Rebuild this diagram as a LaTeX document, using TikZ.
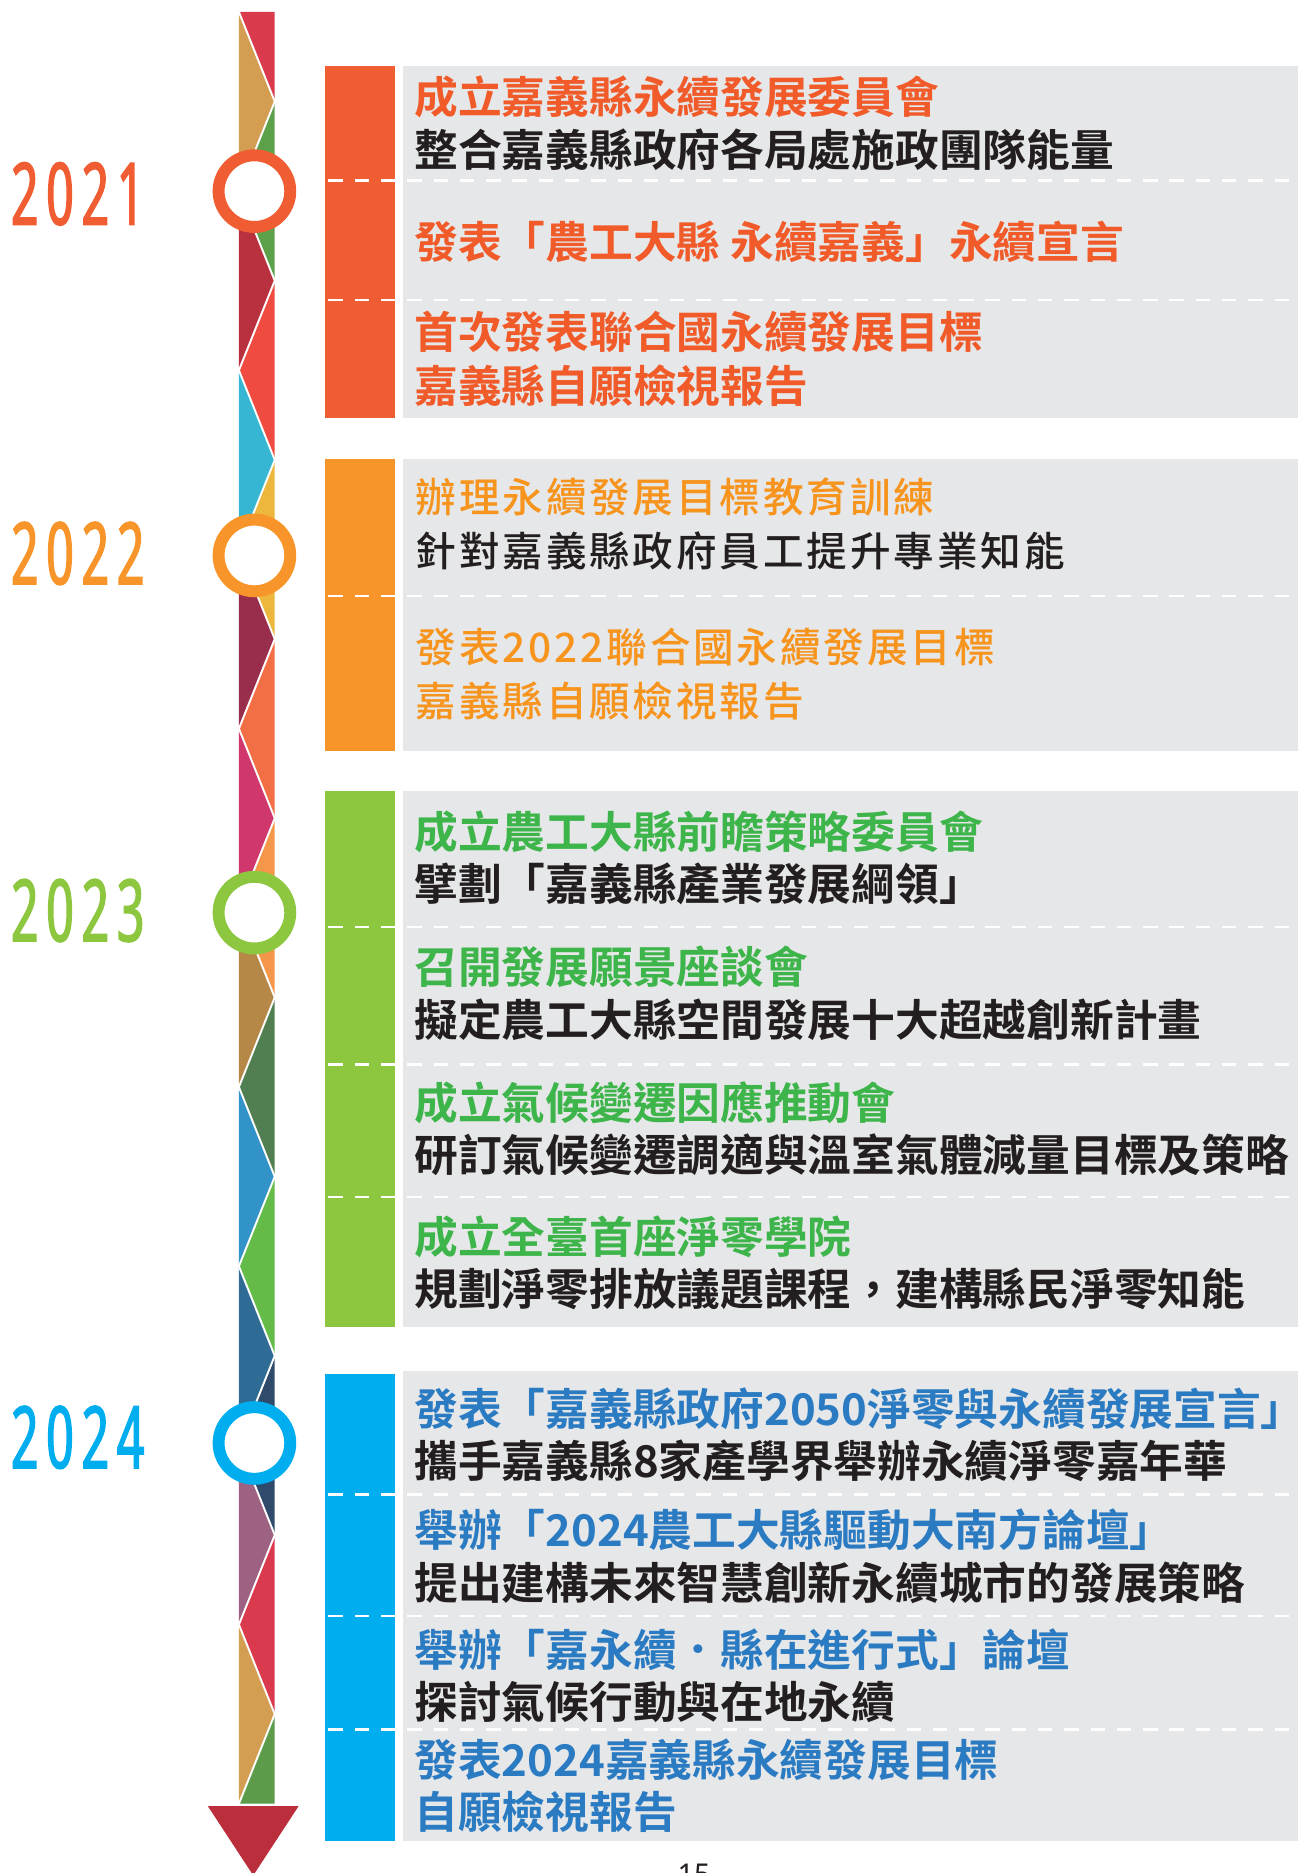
\documentclass[tikz,border=0pt]{standalone}
\usepackage{fontspec}
\newfontfamily\cjkb{Noto Sans CJK TC}[UprightFont={* Bold}]
\newfontfamily\cjkm{Noto Sans CJK TC}[UprightFont={* Medium},LetterSpace=7]
\newfontfamily\yearfont{Noto Sans}[FakeStretch=0.56,FakeBold=1.6,LetterSpace=9]
\newfontfamily\pagefont{Noto Sans}
\definecolor{cA}{HTML}{F15D33}
\definecolor{cB}{HTML}{F7952A}
\definecolor{cC}{HTML}{8DC63F}
\definecolor{cD}{HTML}{00AEEF}
\definecolor{tA}{HTML}{F15A29}
\definecolor{tB}{HTML}{F7941D}
\definecolor{tC}{HTML}{3DB54A}
\definecolor{tD}{HTML}{2B7BC2}
\definecolor{ink}{HTML}{231F20}
\definecolor{panel}{HTML}{E6E7E8}
\definecolor{arrowred}{HTML}{BA2F3B}
\definecolor{L0}{HTML}{D39E52}
\definecolor{L1}{HTML}{B9313E}
\definecolor{L2}{HTML}{37B6D3}
\definecolor{L3}{HTML}{992D4C}
\definecolor{L4}{HTML}{D0376C}
\definecolor{L5}{HTML}{B58847}
\definecolor{L6}{HTML}{3193C8}
\definecolor{L7}{HTML}{2E6C96}
\definecolor{L8}{HTML}{9D6282}
\definecolor{L9}{HTML}{D39E52}
\definecolor{R0}{HTML}{D93A4C}
\definecolor{R1}{HTML}{5DA04A}
\definecolor{R2}{HTML}{EF4B40}
\definecolor{R3}{HTML}{EDB63D}
\definecolor{R4}{HTML}{F26F45}
\definecolor{R5}{HTML}{F5974A}
\definecolor{R6}{HTML}{517F51}
\definecolor{R7}{HTML}{64BB48}
\definecolor{R8}{HTML}{2F4A6B}
\definecolor{R9}{HTML}{D93A4E}
\definecolor{R10}{HTML}{5B9B4A}
\tikzset{
  txt/.style={anchor=base west, inner sep=0pt, outer sep=0pt},
  hdbold/.style={txt, font=\cjkb\fontsize{36.6}{40}\selectfont},
  hdmed/.style={txt, font=\cjkm\fontsize{34}{40}\selectfont},
  yearlbl/.style={anchor=base west, inner sep=0pt, font=\yearfont\fontsize{72}{80}\selectfont},
  ring/.style={circle, draw=#1, line width=10pt, fill=white, minimum size=60pt, inner sep=0pt},
  sepline/.style={white, line width=2pt, dash pattern=on 12pt off 10pt, dash phase=19pt},
  zig/.style={white, line width=1.6pt, line join=miter}
}
\begin{document}
\begin{tikzpicture}[x=1pt,y=-1pt]
\useasboundingbox (0,0) rectangle (1087,1568);
% ---------- timeline stripe ----------
\foreach \c [count=\j from 0] in {L0,L1,L2,L3,L4,L5,L6,L7,L8,L9}{
  \fill[\c] (200,{10+150*\j}) -- (230,{85+150*\j}) -- (200,{160+150*\j}) -- cycle;
}
\fill[R0] (200,10) -- (230,10) -- (230,85) -- cycle;
\foreach \c [count=\j from 1] in {R1,R2,R3,R4,R5,R6,R7,R8,R9}{
  \fill[\c] (230,{10+75*(2*\j-1)}) -- (200,{10+150*\j}) -- (230,{10+75*(2*\j+1)}) -- cycle;
}
\fill[R10] (230,1435) -- (200,1510) -- (230,1510) -- cycle;
\foreach \j in {0,...,9}{
  \draw[zig] (200,{10+150*\j}) -- (230,{85+150*\j}) -- (200,{160+150*\j});
}
\fill[arrowred] (174,1512) -- (250,1512) -- (212,1570) -- cycle;
% ---------- year rings ----------
\node[ring=cA] (r21) at (213,160) {};
\node[ring=cB] (r22) at (213,465) {};
\node[ring=cC] (r23) at (213,764) {};
\node[ring=cD] (r24) at (213,1208) {};
% ---------- year labels ----------
\node[yearlbl, text=cA] (y21) at (9,188) {2021};
\node[yearlbl, text=cB] (y22) at (9,489) {2022};
\node[yearlbl, text=cC] (y23) at (9,788) {2023};
\node[yearlbl, text=cD] (y24) at (9,1229) {2024};
% ---------- panels ----------
\fill[panel] (337,55) rectangle (1087,350);
\fill[cA] (272,55) rectangle (331,350);
\fill[panel] (337,384) rectangle (1087,629);
\fill[cB] (272,384) rectangle (331,629);
\fill[panel] (337,662) rectangle (1087,1111);
\fill[cC] (272,662) rectangle (331,1111);
\fill[panel] (337,1148) rectangle (1087,1541);
\fill[cD] (272,1150) rectangle (331,1541);
% ---------- separators ----------
\foreach \yy in {151,251,499,776,891,1002,1251,1353,1448}{
  \draw[sepline] (272,\yy) -- (1087,\yy);
}
% ---------- 2021 ----------
\node[hdbold, text=tA] (a1) at (347,95) {成立嘉義縣永續發展委員會};
\node[hdbold, text=ink] (a2) at (347,139) {整合嘉義縣政府各局處施政團隊能量};
\node[hdbold, text=tA] (a3) at (347,216) {發表「農工大縣 永續嘉義」永續宣言};
\node[hdbold, text=tA] (a4) at (347,292) {首次發表聯合國永續發展目標};
\node[hdbold, text=tA] (a5) at (347,337) {嘉義縣自願檢視報告};
% ---------- 2022 ----------
\node[hdmed, text=tB] (b1) at (348,429) {辦理永續發展目標教育訓練};
\node[hdmed, text=ink] (b2) at (348,474) {針對嘉義縣政府員工提升專業知能};
\node[hdmed, text=tB] (b3) at (348,555) {發表2022聯合國永續發展目標};
\node[hdmed, text=tB] (b4) at (348,600) {嘉義縣自願檢視報告};
% ---------- 2023 ----------
\node[hdbold, text=tC] (c1) at (347,710) {成立農工大縣前瞻策略委員會};
\node[hdbold, text=ink] (c2) at (347,754) {擘劃「嘉義縣產業發展綱領」};
\node[hdbold, text=tC] (c3) at (347,823) {召開發展願景座談會};
\node[hdbold, text=ink] (c4) at (347,868) {擬定農工大縣空間發展十大超越創新計畫};
\node[hdbold, text=tC] (c5) at (347,937) {成立氣候變遷因應推動會};
\node[hdbold, text=ink] (c6) at (347,981) {研訂氣候變遷調適與溫室氣體減量目標及策略};
\node[hdbold, text=tC] (c7) at (347,1049) {成立全臺首座淨零學院};
\node[hdbold, text=ink] (c8) at (347,1093) {規劃淨零排放議題課程，建構縣民淨零知能};
% ---------- 2024 ----------
\node[hdbold, text=tD] (d1) at (347,1193) {發表「嘉義縣政府2050淨零與永續發展宣言」};
\node[hdbold, text=ink] (d2) at (347,1237) {攜手嘉義縣8家產學界舉辦永續淨零嘉年華};
\node[hdbold, text=tD] (d3) at (347,1295) {舉辦「2024農工大縣驅動大南方論壇」};
\node[hdbold, text=ink] (d4) at (347,1339) {提出建構未來智慧創新永續城市的發展策略};
\node[hdbold, text=tD] (d5) at (347,1395) {舉辦「嘉永續．縣在進行式」論壇};
\node[hdbold, text=ink] (d6) at (347,1439) {探討氣候行動與在地永續};
\node[hdbold, text=tD] (d7) at (347,1487) {發表2024嘉義縣永續發展目標};
\node[hdbold, text=tD] (d8) at (347,1531) {自願檢視報告};
% ---------- page number ----------
\node[anchor=base, inner sep=0pt, text=ink, font=\pagefont\fontsize{24}{28}\selectfont] (pg) at (581,1578) {15};
\end{tikzpicture}
\end{document}
